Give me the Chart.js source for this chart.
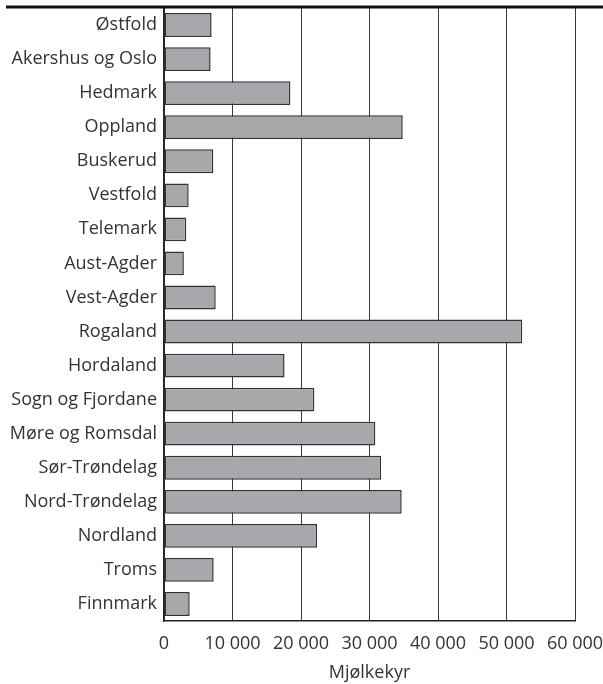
<!DOCTYPE html>
<html>
<head>
<meta charset="utf-8">
<script src="https://cdn.jsdelivr.net/npm/chart.js@4"></script>
<style>
html,body{margin:0;padding:0;background:#fff;}
#wrap{width:603px;height:684px;position:relative;}
</style>
</head>
<body>
<div id="wrap"><canvas id="c" width="603" height="684"></canvas></div>
<script>
const categories = ["Østfold","Akershus og Oslo","Hedmark","Oppland","Buskerud","Vestfold","Telemark","Aust-Agder","Vest-Agder","Rogaland","Hordaland","Sogn og Fjordane","Møre og Romsdal","Sør-Trøndelag","Nord-Trøndelag","Nordland","Troms","Finnmark"];
const dairyCows = [6950,6800,18450,34850,7200,3600,3250,2900,7550,52300,17600,21950,30850,31700,34700,22350,7250,3750];
const xTicks = [0,10000,20000,30000,40000,50000,60000];
const xTitle = "Mjølkekyr";

const topRule = {
  id: 'topRule',
  afterDraw(chart) {
    const ctx = chart.ctx;
    ctx.save();
    ctx.strokeStyle = '#111';
    ctx.lineWidth = 3;
    ctx.beginPath();
    ctx.moveTo(6, 7);
    ctx.lineTo(chart.width, 7);
    ctx.stroke();
    ctx.restore();
  }
};

new Chart(document.getElementById('c'), {
  type: 'bar',
  data: {
    labels: categories,
    datasets: [{
      data: dairyCows,
      backgroundColor: '#a7a8ab',
      borderColor: '#333333',
      borderWidth: 1.5,
      borderSkipped: false,
      categoryPercentage: 1,
      barPercentage: 0.7
    }]
  },
  options: {
    indexAxis: 'y',
    responsive: false,
    animation: false,
    devicePixelRatio: 1,
    layout: { padding: { top: 8, right: 28, left: 0, bottom: 0 } },
    plugins: { legend: { display: false }, tooltip: { enabled: false } },
    scales: {
      x: {
        min: 0, max: 60000,
        afterBuildTicks(scale) { scale.ticks = xTicks.map(v => ({ value: v })); },
        afterFit(scale) { scale.height = 63; scale.paddingLeft = 0; scale.paddingRight = 0; },
        grid: { color: '#3a3a3a', lineWidth: 1, drawTicks: false },
        border: { display: true, color: '#222', width: 1.5 },
        ticks: {
          color: '#333',
          font: { family: 'Open Sans', size: 18 },
          padding: 12,
          maxRotation: 0,
          callback: (v) => String(v).replace(/\B(?=(\d{3})+(?!\d))/g, ' ')
        },
        title: {
          display: true, text: xTitle, color: '#333',
          font: { family: 'Open Sans', size: 18 },
          padding: { top: 0, bottom: 0 }
        }
      },
      y: {
        afterFit(scale) { scale.width = 164; scale.paddingTop = 0; scale.paddingBottom = 0; },
        grid: { display: false, drawTicks: false },
        border: { display: true, color: '#222', width: 1.5 },
        ticks: {
          color: '#333',
          font: { family: 'Open Sans', size: 18 },
          padding: 7
        }
      }
    }
  },
  plugins: [topRule]
});
</script>
</body>
</html>
